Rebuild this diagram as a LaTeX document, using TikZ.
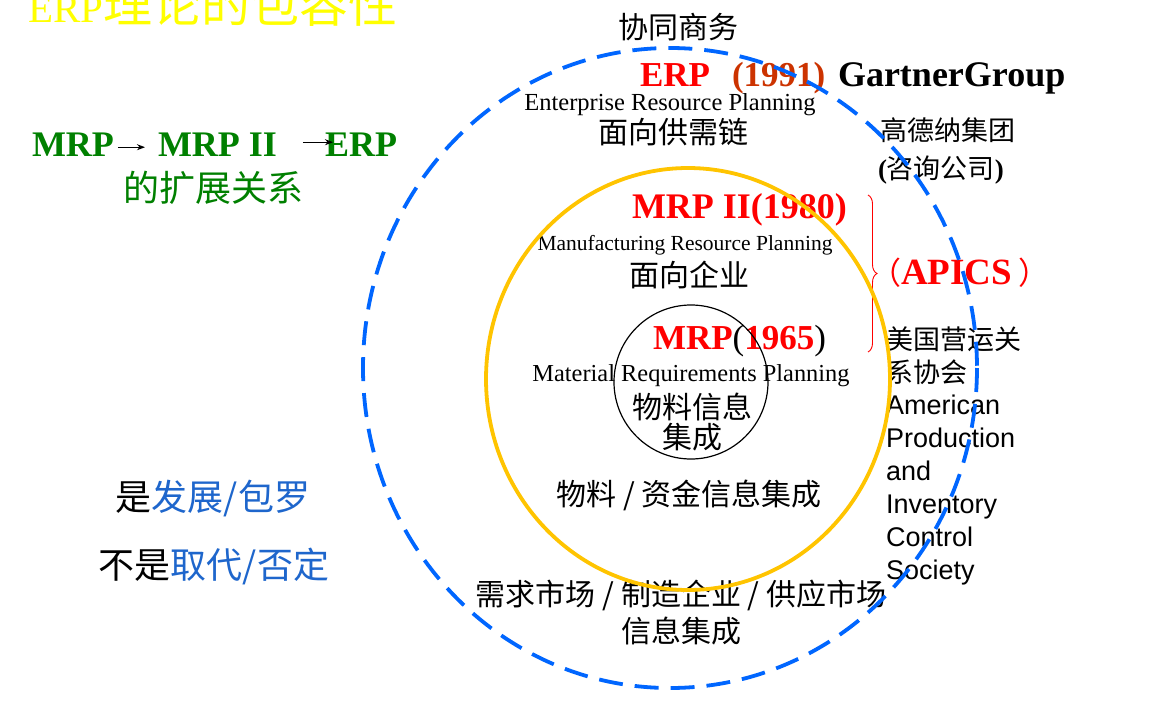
\documentclass[tikz,border=0pt]{standalone}
\usepackage{fontspec}
\setmainfont{Liberation Serif}
\newfontfamily\cjk{Noto Sans CJK SC}
\newfontfamily\arialf{Liberation Sans}
\usetikzlibrary{decorations.pathreplacing,arrows.meta}
\definecolor{titleyellow}{RGB}{255,255,0}
\definecolor{evogreen}{RGB}{0,128,0}
\definecolor{ringblue}{RGB}{0,102,255}
\definecolor{ringyellow}{RGB}{255,196,0}
\definecolor{noteblue}{RGB}{30,102,204}
\definecolor{yearorange}{RGB}{204,51,0}
\definecolor{hired}{RGB}{255,0,0}
\tikzset{
  cn/.style={font=\cjk\fontsize{#1}{#1}\selectfont},
  lat/.style={font=\fontsize{#1}{#1}\selectfont},
  latb/.style={font=\bfseries\fontsize{#1}{#1}\selectfont},
  sans/.style={font=\arialf\fontsize{#1}{#1}\selectfont},
  bw/.style={anchor=base west},
  evoarrow/.style={-{Stealth[length=8pt,width=6pt]}, line width=1.1pt, black},
}
\begin{document}
\begin{tikzpicture}[x=1pt,y=-1pt, every node/.style={inner sep=0pt, outer sep=0pt}]
\useasboundingbox (0,0) rectangle (1160,726);
\fill[white] (0,0) rectangle (1160,726);

% heading
\node[bw, text=titleyellow, lat=41] (title) at (28,22) {ERP{\cjk\fontsize{49}{49}\selectfont 理论的包容性}};

% MRP -> MRP II -> ERP
\node[bw, text=evogreen, latb=36] (evoA) at (32,156) {MRP};
\node[bw, text=evogreen, latb=36] (evoB) at (158,156) {MRP II};
\node[bw, text=evogreen, latb=36] (evoC) at (325,156) {ERP};
\draw[evoarrow] ([xshift=4pt,yshift=-3pt]evoA.east) -- ([xshift=-13pt,yshift=-3pt]evoB.west);
\draw[evoarrow] ([xshift=26pt,yshift=2pt]evoB.east) -- ([xshift=8pt,yshift=2pt]evoC.west);
\node[text=evogreen, cn=36] (evonote) at (213,188) {的扩展关系};

% left-hand notes
\node[text=noteblue, cn=36] (noteA) at (213,499) {{\color{black}是}发展/包罗};
\node[text=noteblue, cn=36] (noteB) at (214,566) {{\color{black}不是}取代/否定};

% outer ring: ERP
\node[cn=30] (collab) at (678,27) {协同商务};
\node[bw, text=hired, latb=35] (erpname) at (640,86) {ERP};
\node[bw, text=yearorange, latb=35] (erpyear) at (732,86) {(1991)};
\node[bw, latb=36] (gartner) at (838,86) {GartnerGroup};
\node[anchor=base, lat=24.5] (erpfull) at (670,110) {Enterprise Resource Planning};
\node[cn=30] (erpscope) at (673,132) {面向供需链};
\node[anchor=west, cn=27] (gartnercn) at (880,130) {高德纳集团};
\node[anchor=west, cn=27] (gartnerkind) at (878,170) {{\rmfamily\bfseries(}咨询公司{\rmfamily\bfseries)}};

% middle ring: MRP II
\node[bw, text=hired, latb=36] (mrp2name) at (632,218) {MRP II(1980)};
\node[anchor=base, lat=21.5] (mrp2full) at (685,250) {Manufacturing Resource Planning};
\node[cn=30] (mrp2scope) at (689,275) {面向企业};

% inner ring: MRP
\node[bw, latb=35] (mrpname) at (653,349) {\color{hired}MRP\color{black}\mdseries(\color{hired}\bfseries 1965\color{black}\mdseries)};
\node[anchor=base, lat=24.4] (mrpfull) at (691,381) {Material Requirements Planning};
\node[cn=30, align=center] (mrpscope) at (692,422) {物料信息\\集成};
\node[cn=30] (mrp2info) at (689,495) {物料 / 资金信息集成};
\node[cn=30] (erpinfoA) at (681,595) {需求市场 / 制造企业 / 供应市场};
\node[cn=30] (erpinfoB) at (681,631) {信息集成};

% APICS
\node[bw, text=hired, latb=37] (apics) at (870,284) {{\cjk\mdseries\fontsize{31}{31}\selectfont （}APICS\hspace{6pt}{\cjk\mdseries\fontsize{31}{31}\selectfont ）}};
\node[anchor=west, cn=27] (apicscnA) at (886,339) {美国营运关};
\node[anchor=west, cn=27] (apicscnB) at (886,372) {系协会};
\node[bw, sans=27] (apicsen1) at (886,414) {American};
\node[bw, sans=27] (apicsen2) at (886,447) {Production};
\node[bw, sans=27] (apicsen3) at (886,480) {and};
\node[bw, sans=27] (apicsen4) at (886,513) {Inventory};
\node[bw, sans=27] (apicsen5) at (886,546) {Control};
\node[bw, sans=27] (apicsen6) at (886,579) {Society};
\coordinate (braceTop) at (868,195);
\coordinate (braceBot) at (868,352);
\draw[hired, line width=0.9pt, decorate, decoration={brace, amplitude=9pt}] (braceTop) -- (braceBot);

% rings
\draw[ringblue, line width=3.8pt, dash pattern=on 24pt off 12pt] (670,368) ellipse [x radius=307, y radius=320];
\draw[ringyellow, line width=3.8pt] (688,379) ellipse [x radius=202, y radius=211];
\draw[black, line width=1.2pt] (691,382) circle [radius=77];
\end{tikzpicture}
\end{document}
